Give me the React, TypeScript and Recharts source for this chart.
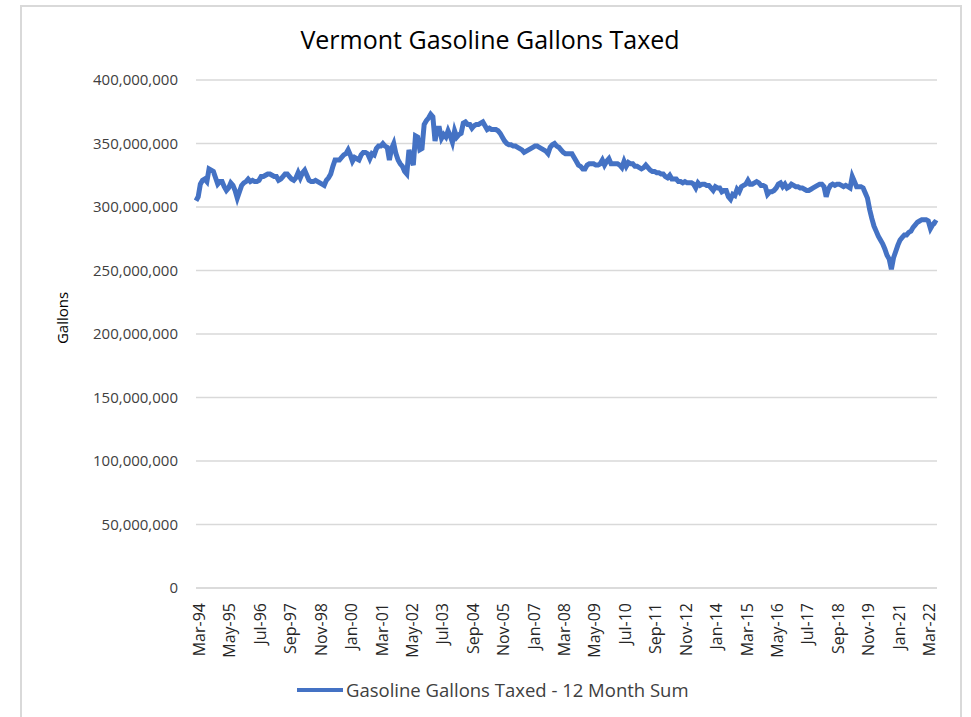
import React from 'react';
import { LineChart, Line, XAxis, YAxis, CartesianGrid } from 'recharts';

// 12-month rolling sum of gasoline gallons taxed, in millions, Mar-94 .. Aug-22
const gallonsMillions = [
  305, 308, 318, 321, 322, 320, 330, 329, 328, 323,
  318, 320, 320, 316, 313, 315, 319, 317, 313, 307,
  312, 317, 319, 320, 322, 320, 321, 320, 320, 321,
  324, 324, 325, 326, 326, 325, 324, 324, 321, 322,
  324, 326, 326, 324, 322, 321, 323, 327, 323, 327,
  329, 325, 321, 320, 320, 321, 320, 319, 318, 317,
  321, 323, 326, 332, 337, 337, 337, 339, 341, 342,
  345, 341, 336, 339, 338, 337, 341, 343, 343, 342,
  338, 342, 341, 346, 348, 348, 350, 348, 347, 337,
  346, 350, 342, 337, 334, 332, 328, 326, 345, 338,
  333, 356, 355, 345, 346, 365, 368, 370, 373, 371,
  352, 362, 362, 354, 357, 355, 360, 356, 351, 360,
  355, 357, 358, 366, 367, 365, 365, 362, 364, 365,
  365, 366, 367, 364, 361, 362, 361, 361, 361, 360,
  358, 355, 352, 350, 349, 349, 348, 348, 347, 346,
  345, 343, 344, 345, 346, 347, 348, 348, 347, 346,
  345, 344, 342, 347, 349, 350, 348, 347, 345, 343,
  342, 342, 342, 342, 339, 336, 333, 332, 330, 330,
  333, 334, 334, 334, 333, 333, 334, 337, 333, 336,
  338, 334, 334, 334, 334, 333, 331, 336, 332, 335,
  334, 334, 332, 332, 331, 330, 331, 333, 331, 329,
  328, 328, 327, 327, 326, 326, 324, 323, 325, 322,
  322, 322, 320, 320, 319, 320, 319, 319, 319, 318,
  315, 319, 317, 318, 318, 317, 317, 315, 313, 316,
  315, 315, 312, 313, 313, 308, 306, 310, 309, 314,
  312, 316, 317, 318, 321, 318, 318, 319, 320, 319,
  317, 317, 316, 310, 312, 312, 313, 315, 318, 319,
  316, 318, 315, 316, 318, 317, 316, 316, 315, 315,
  314, 313, 313, 314, 315, 316, 317, 318, 318, 316,
  308, 314, 317, 318, 317, 318, 318, 317, 316, 317,
  316, 315, 324, 320, 316, 316, 316, 315, 311, 307,
  298, 291, 285, 281, 277, 274, 271, 267, 262, 259,
  251, 260, 265, 270, 274, 276, 278, 278, 280, 281,
  284, 286, 288, 289, 290, 290, 290, 289, 283, 286,
  288, 287,
];

const monthNames = ['Jan', 'Feb', 'Mar', 'Apr', 'May', 'Jun', 'Jul', 'Aug', 'Sep', 'Oct', 'Nov', 'Dec'];
const startYear = 1994;
const startMonth = 2; // March

const yTicks = [0, 50, 100, 150, 200, 250, 300, 350, 400];

const seriesName = 'Gasoline Gallons Taxed - 12 Month Sum';
const lineColor = '#4472C4';
const font = '"Open Sans", sans-serif';

const data = gallonsMillions.map((v, i) => {
  const m = startMonth + i;
  const yr = (startYear + Math.floor(m / 12)) % 100;
  return {
    month: `${monthNames[m % 12]}-${String(yr).padStart(2, '0')}`,
    gallons: v,
  };
});

const XTick = (props: any) => {
  const { x, y, payload } = props;
  const tx = x + 3;
  const ty = y + 7;
  return (
    <text
      x={tx}
      y={ty}
      transform={`rotate(-90, ${tx}, ${ty})`}
      textAnchor="end"
      dominantBaseline="central"
      fontSize={16}
      fontFamily={font}
      fill="#262626"
    >
      {payload.value}
    </text>
  );
};

const App: React.FC = () => {
  return (
    <div style={{ position: 'absolute', left: 0, top: 0, width: 971, height: 717, background: '#fff', overflow: 'hidden' }}>
      <div style={{ position: 'absolute', left: 20, top: 5, width: 938, height: 740, border: '2px solid #d9d9d9' }} />
      <div style={{ position: 'absolute', left: 0, top: 22, width: 980, textAlign: 'center', fontFamily: font, fontSize: 25, color: '#000' }}>
        Vermont Gasoline Gallons Taxed
      </div>
      <div style={{ position: 'absolute', left: 62, top: 318, transform: 'translate(-50%, -50%) rotate(-90deg)', fontFamily: font, fontSize: 15, color: '#000', whiteSpace: 'nowrap' }}>
        Gallons
      </div>
      <div style={{ position: 'absolute', left: 0, top: 0 }}>
        <LineChart width={971} height={717} data={data} margin={{ top: 80, right: 34, bottom: 54, left: 0 }}>
          <CartesianGrid vertical={false} stroke="#d9d9d9" strokeWidth={1.5} />
          <XAxis
            dataKey="month"
            interval={13}
            tickLine={false}
            axisLine={{ stroke: '#d9d9d9', strokeWidth: 1.5 }}
            height={75}
            tick={<XTick />}
          />
          <YAxis
            domain={[0, 400]}
            ticks={yTicks}
            width={196}
            tickLine={false}
            axisLine={false}
            tickMargin={12}
            tick={{ fontSize: 15, fontFamily: font, fill: '#404040' }}
            tickFormatter={(v: number) => (v * 1000000).toLocaleString('en-US')}
          />
          <Line
            type="linear"
            dataKey="gallons"
            name={seriesName}
            stroke={lineColor}
            strokeWidth={5}
            dot={false}
            isAnimationActive={false}
          />
        </LineChart>
      </div>
      <div style={{ position: 'absolute', left: 297, top: 677, display: 'flex', alignItems: 'center', fontFamily: font, fontSize: 18.5, color: '#404040' }}>
        <span style={{ display: 'inline-block', width: 46, height: 4, background: lineColor, marginRight: 3 }} />
        {seriesName}
      </div>
    </div>
  );
};

export default App;
